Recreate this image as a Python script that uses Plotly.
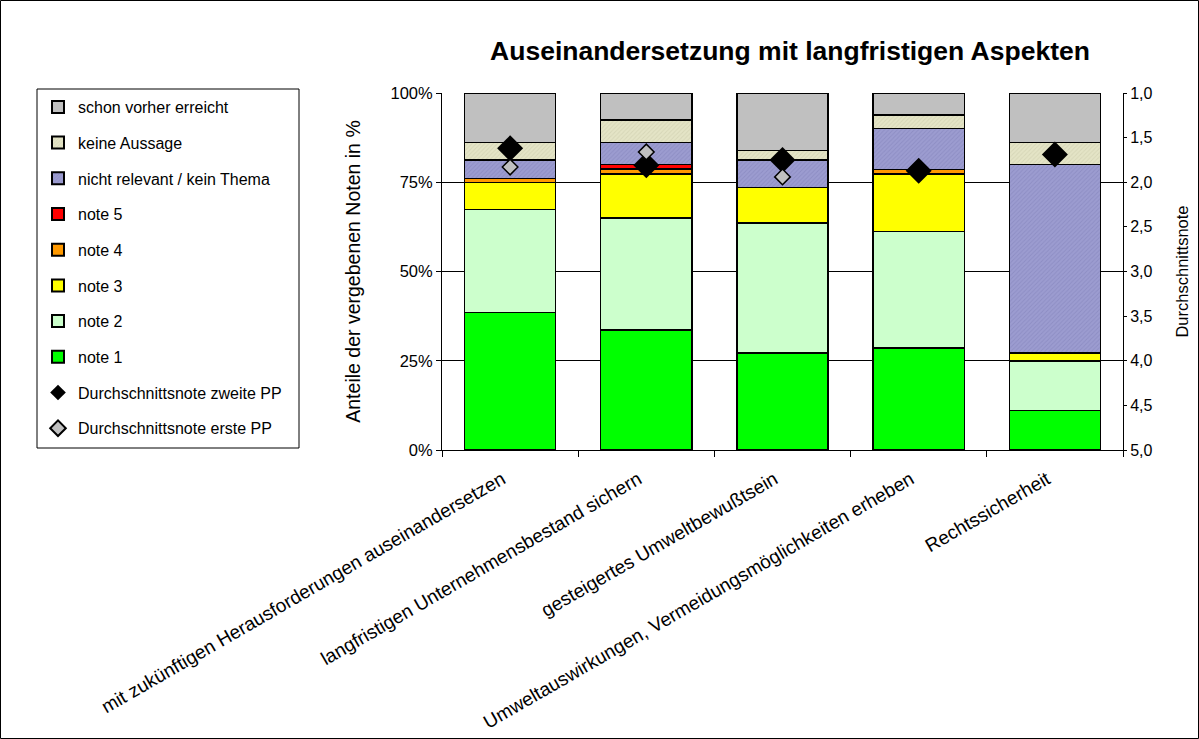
import plotly.graph_objects as go

categories = [
    "mit zukünftigen Herausforderungen auseinandersetzen",
    "langfristigen Unternehmensbestand sichern",
    "gesteigertes Umweltbewußtsein",
    "Umweltauswirkungen, Vermeidungsmöglichkeiten erheben",
    "Rechtssicherheit",
]

note1 = [38.5, 33.6, 27.2, 28.6, 11.0]
note2 = [28.9, 31.4, 36.4, 32.6, 13.9]
note3 = [7.5, 12.3, 10.0, 16.1, 2.3]
note4 = [1.1, 1.4, 0.0, 1.3, 0.0]
note5 = [0.0, 1.3, 0.0, 0.0, 0.0]
nicht_relevant = [5.2, 6.2, 7.6, 11.4, 52.7]
keine_aussage = [5.0, 6.2, 2.6, 3.8, 6.3]
schon_vorher = [13.8, 7.6, 16.2, 6.2, 13.8]

avg_zweite = [1.62, 1.81, 1.75, 1.87, 1.69]
avg_erste = [1.83, 1.66, 1.94, None, None]

y_ticks = [0, 25, 50, 75, 100]
y_ticktext = [f"{v}%" for v in y_ticks]
y2_ticks = [1.0, 1.5, 2.0, 2.5, 3.0, 3.5, 4.0, 4.5, 5.0]
y2_ticktext = [f"{v:.1f}".replace(".", ",") for v in y2_ticks]

FONT = "Liberation Sans, Arial, sans-serif"

# plot-area pixel geometry
W, H = 1199, 739
PL, PR, PT, PB = 442, 1123, 93, 450


def px_x(p):
    return (p - PL) / (PR - PL)


def px_y(p):
    return (PB - p) / (PB - PT)


series = [
    ("note 1", note1, "#00FF00", None, 8),
    ("note 2", note2, "#CCFFCC", None, 7),
    ("note 3", note3, "#FFFF00", None, 6),
    ("note 4", note4, "#FF9900", None, 5),
    ("note 5", note5, "#FF0000", None, 4),
    ("nicht relevant / kein Thema", nicht_relevant, "#9C9CD0", "#7F7FB8", 3),
    ("keine Aussage", keine_aussage, "#E4E4C6", "#C8C8A8", 2),
    ("schon vorher erreicht", schon_vorher, "#C0C0C0", None, 1),
]

fig = go.Figure()
for name, vals, color, pcol, rank in series:
    marker = dict(color=color, line=dict(color="black", width=1.3))
    if pcol:
        marker["pattern"] = dict(shape="/", size=3, solidity=0.3, fgcolor=pcol)
    fig.add_trace(go.Bar(
        x=categories, y=vals, name=name, marker=marker,
        legendgroup=name, legendrank=rank, width=0.67,
    ))

fig.add_trace(go.Scatter(
    x=categories, y=avg_zweite, name="Durchschnittsnote zweite PP", yaxis="y2",
    mode="markers", marker=dict(symbol="diamond", size=20, color="black",
                                line=dict(color="black", width=0)),
    legendgroup="zweite", legendrank=9,
))
fig.add_trace(go.Scatter(
    x=categories, y=avg_erste, name="Durchschnittsnote erste PP", yaxis="y2",
    mode="markers", marker=dict(symbol="diamond", size=12, color="#C0C0C0",
                                line=dict(color="black", width=1.5)),
    legendgroup="erste", legendrank=10,
))

fig.update_layout(
    width=W, height=H,
    barmode="stack",
    plot_bgcolor="white", paper_bgcolor="white",
    margin=dict(l=PL, r=W - PR, t=PT, b=H - PB, autoexpand=False),
    font=dict(family=FONT, size=16, color="black"),
    showlegend=True,
    legend=dict(
        x=px_x(38), y=px_y(90), xanchor="left", yanchor="top",
        traceorder="grouped", tracegroupgap=11.9, itemsizing="constant",
        font=dict(size=16, family=FONT), bgcolor="rgba(0,0,0,0)",
        borderwidth=0, maxheight=650,
    ),
    xaxis=dict(
        showline=True, linecolor="black", linewidth=1,
        ticks="outside", tickson="boundaries", ticklen=6, tickcolor="black",
        tickangle=-30, tickfont=dict(size=19, family=FONT),
        ticklabelstandoff=10, ticklabelshift=-8,
        showgrid=False,
    ),
    yaxis=dict(
        range=[0, 100], tickvals=y_ticks, ticktext=y_ticktext,
        showline=True, linecolor="black", linewidth=1,
        ticks="outside", ticklen=5, tickcolor="black",
        showgrid=True, gridcolor="black", gridwidth=1,
        zeroline=False, tickfont=dict(size=16.5),
        title=dict(text="Anteile der vergebenen Noten in %", font=dict(size=19.5), standoff=24),
    ),
    yaxis2=dict(
        overlaying="y", side="right", range=[5, 1],
        tickvals=y2_ticks, ticktext=y2_ticktext,
        showline=True, linecolor="black", linewidth=1,
        ticks="outside", ticklen=3, tickcolor="black",
        showgrid=False, zeroline=False, tickfont=dict(size=16),
        title=dict(text="Durchschnittsnote", font=dict(size=16.5), standoff=24),
    ),
    title=dict(
        text="<b>Auseinandersetzung mit langfristigen Aspekten</b>",
        x=px_x(790), xref="paper", xanchor="center",
        y=1 - 51 / H, yref="container", yanchor="middle",
        font=dict(size=26.5, family=FONT),
    ),
    shapes=[
        dict(type="rect", xref="paper", yref="paper",
             x0=px_x(37), x1=px_x(299), y0=px_y(448), y1=px_y(89),
             line=dict(color="black", width=1), fillcolor="rgba(0,0,0,0)", layer="above"),
        dict(type="rect", xref="paper", yref="paper",
             x0=px_x(0.5), x1=px_x(W - 0.5), y0=px_y(H - 0.5), y1=px_y(0.5),
             line=dict(color="black", width=1), fillcolor="rgba(0,0,0,0)", layer="above"),
    ],
)

fig.write_html(
    "out.html",
    config={"displayModeBar": False},
    post_script="document.body.style.margin='0';document.body.style.overflow='hidden';",
)
